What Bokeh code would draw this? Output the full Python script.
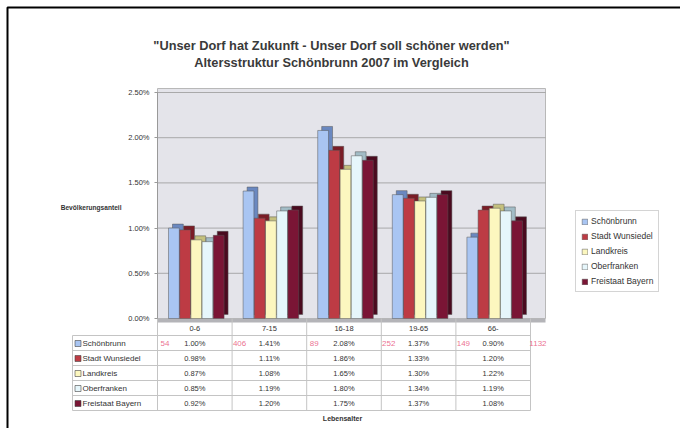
from bokeh.plotting import figure
from bokeh.models import (Range1d, Legend, LegendItem, FixedTicker, LinearAxis,
                          PrintfTickFormatter, ColumnDataSource)
from bokeh.embed import file_html
from bokeh.resources import INLINE
from bokeh.core.properties import value

# ---------------- data ----------------
categories = ["0-6", "7-15", "16-18", "19-65", "66-"]
series_names = ["Schönbrunn", "Stadt Wunsiedel", "Landkreis", "Oberfranken", "Freistaat Bayern"]
schoenbrunn = [1.00, 1.41, 2.08, 1.37, 0.90]
stadt_wunsiedel = [0.98, 1.11, 1.86, 1.33, 1.20]
landkreis = [0.87, 1.08, 1.65, 1.30, 1.22]
oberfranken = [0.85, 1.19, 1.80, 1.34, 1.19]
freistaat_bayern = [0.92, 1.20, 1.75, 1.37, 1.08]
notes = ["54", "406", "89", "252", "149", "1132"]
y_ticks = [0.0, 0.5, 1.0, 1.5, 2.0, 2.5]
title_lines = ['"Unser Dorf hat Zukunft - Unser Dorf soll schöner werden"',
               "Altersstruktur Schönbrunn 2007 im Vergleich"]
y_label = "Bevölkerungsanteil"
x_label = "Lebensalter"

series = [schoenbrunn, stadt_wunsiedel, landkreis, oberfranken, freistaat_bayern]

# ---------------- styles / geometry ----------------
FONT = "Liberation Sans"
front_colors = ["#a9c5f2", "#bd3b44", "#fcf7bf", "#e6f6fb", "#7a1535"]
side_colors = ["#6a88c0", "#7a1c26", "#c4c07e", "#a2bcc6", "#4a0a1f"]
TXT = "#333333"
GRID = "#c4c4c4"

W, H = 680, 428
PX = 74.6      # pixels per category
C0 = 194.3     # picture x of first category centre
YPX = 90.4     # pixels per 1 %
Y0 = 318.0     # picture y of 0 %


def dx(px):
    return (px - C0) / PX


def dy(py):
    return (Y0 - py) / YPX


p = figure(width=W, height=H, x_range=Range1d(dx(0), dx(W)), y_range=Range1d(dy(H), dy(0)),
           output_backend="svg", toolbar_location=None, x_axis_location=None,
           y_axis_location=None, min_border=0)
p.outline_line_color = None
p.background_fill_color = "white"
p.border_fill_color = "white"
for g in p.grid:
    g.visible = False

n = len(categories)
wall_l, wall_r = -0.5, dx(545)

# black frame of the picture (top / left)
p.line(x=[dx(W), dx(7), dx(7)], y=[dy(7), dy(7), dy(H)], line_color="black", line_width=2)

# chart wall, floor and grid
p.quad(left=[wall_l], right=[wall_r], bottom=[0], top=[dy(88)],
       fill_color="#e4e4ea", line_color="#b8b8b8", line_width=1)
p.segment(x0=[wall_l] * (len(y_ticks) - 1), x1=[wall_r] * (len(y_ticks) - 1),
          y0=y_ticks[1:], y1=y_ticks[1:], line_color="#9a9a9a", line_width=1, line_alpha=0.8)
p.quad(left=[wall_l], right=[wall_r], bottom=[dy(322)], top=[0], fill_color="#b4b4b8", line_color=None)

yax = LinearAxis(fixed_location=-0.5, bounds=(0, 2.5), ticker=FixedTicker(ticks=y_ticks),
                 formatter=PrintfTickFormatter(format="%.2f%%"))
yax.major_label_text_font = FONT
yax.major_label_text_font_size = "7.5px"
yax.major_label_text_color = TXT
yax.axis_line_color = "#999999"
yax.major_tick_line_color = "#999999"
yax.major_tick_out = 3
yax.major_tick_in = 0
yax.minor_tick_line_color = None
p.add_layout(yax, "left")

# bars (pseudo 3D: darker depth block behind each front face)
BW = 0.145
DX = 4 / PX
DY = 4 / YPX
items = []
for j, vals in enumerate(series):
    xj = [i + (j - 2) * 0.15 + 0.02 for i in range(n)]
    depth = ColumnDataSource(dict(x=[v + DX for v in xj], top=[v + DY for v in vals]))
    p.vbar(x="x", top="top", bottom=DY, width=BW, source=depth,
           fill_color=side_colors[j], line_color="#555555", line_width=0.5)
    src = ColumnDataSource(dict(x=xj, top=vals))
    r = p.vbar(x="x", top="top", bottom=0, width=BW, source=src,
               fill_color=front_colors[j], line_color="#555555", line_width=0.5)
    items.append(LegendItem(label=series_names[j], renderers=[r]))

legend = Legend(items=items, location=(575, H - 292))
legend.label_text_font = FONT
legend.label_text_font_size = "8.5px"
legend.label_text_color = TXT
legend.glyph_width = 7
legend.glyph_height = 7
legend.label_height = 9
legend.spacing = 5
legend.padding = 5
legend.margin = 0
legend.label_standoff = 3
legend.border_line_color = "#aaaaaa"
legend.background_fill_color = "white"
p.add_layout(legend)

# titles
p.text(x=[dx(331)] * 2, y=[dy(45), dy(62)], text=title_lines, text_align="center",
       text_baseline="middle", text_font=value(FONT), text_font_size="12.8px",
       text_font_style="bold", text_color="#3a3a3a")
p.text(x=[dx(121)], y=[dy(207)], text=[y_label], text_align="right", text_baseline="middle",
       text_font=value(FONT), text_font_size="6.6px", text_font_style="bold", text_color=TXT)

# ---------------- data table ----------------
x_left = dx(72)
row_y = [dy(343 + 15 * j) for j in range(len(series))]
line_y = [dy(335 + 15 * j) for j in range(len(series) + 1)]
p.segment(x0=[x_left] * len(line_y), x1=[n - 0.5] * len(line_y), y0=line_y, y1=line_y,
          line_color=GRID, line_width=1)
p.segment(x0=[i - 0.5 for i in range(n + 1)], x1=[i - 0.5 for i in range(n + 1)],
          y0=[dy(318)] * (n + 1), y1=[line_y[-1]] * (n + 1), line_color=GRID, line_width=1)
p.segment(x0=[x_left], x1=[x_left], y0=[line_y[0]], y1=[line_y[-1]], line_color=GRID, line_width=1)

p.text(x=list(range(n)), y=[dy(328)] * n, text=categories, text_align="center",
       text_baseline="middle", text_font=value(FONT), text_font_size="7.5px", text_color=TXT)
p.scatter(x=[dx(77.5)] * len(series), y=row_y, marker="square", size=6,
          fill_color=front_colors, line_color="#444444", line_width=0.6)
p.text(x=[dx(82)] * len(series), y=row_y, text=series_names, text_align="left",
       text_baseline="middle", text_font=value(FONT), text_font_size="8px", text_color=TXT)
for j, vals in enumerate(series):
    p.text(x=list(range(n)), y=[row_y[j]] * n, text=[f"{v:.2f}%" for v in vals],
           text_align="center", text_baseline="middle", text_font=value(FONT),
           text_font_size="7.5px", text_color=TXT)
p.text(x=[i - 0.40 for i in range(len(notes))], y=[row_y[0]] * len(notes), text=notes,
       text_align="center", text_baseline="middle", text_font=value(FONT),
       text_font_size="8px", text_color="#e8557a", text_alpha=0.85)
p.text(x=[dx(342)], y=[dy(418)], text=[x_label], text_align="center", text_baseline="middle",
       text_font=value(FONT), text_font_size="7px", text_font_style="bold", text_color=TXT)

with open("out.html", "w") as f:
    f.write(file_html(p, INLINE))
